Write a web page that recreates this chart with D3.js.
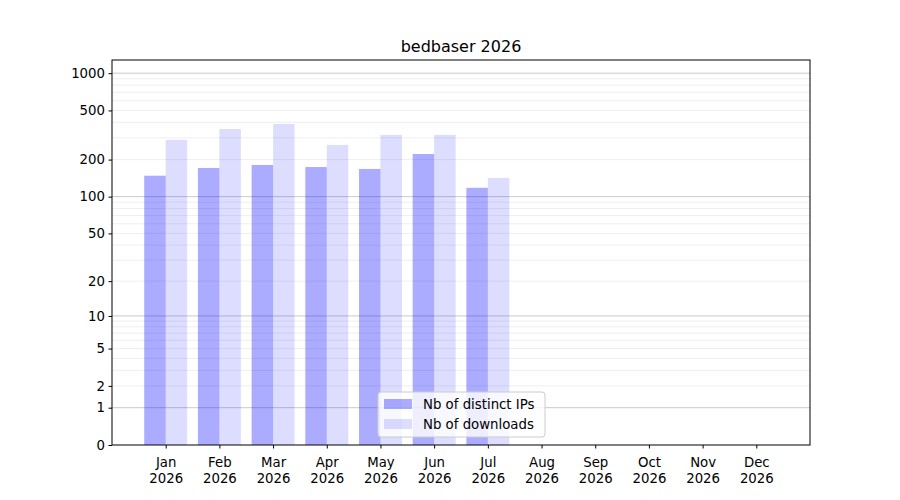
<!DOCTYPE html>
<html>
<head>
<meta charset="utf-8">
<script src="https://cdn.jsdelivr.net/npm/d3@7"></script>
<style>
body { margin: 0; background: #fff; }
svg { font-family: "DejaVu Sans", sans-serif; }
</style>
</head>
<body>
<svg width="900" height="500"></svg>
<script>
const months = ["Jan", "Feb", "Mar", "Apr", "May", "Jun", "Jul", "Aug", "Sep", "Oct", "Nov", "Dec"];
const year = "2026";
const distinctIPs = [148, 171, 181, 174, 168, 222, 118];
const downloads = [289, 354, 389, 263, 317, 317, 142];
const yTickValues = [0, 1, 2, 5, 10, 20, 50, 100, 200, 500, 1000];
const majorGrid = [1, 10, 100, 1000];
const minorGrid = [2, 3, 4, 5, 6, 7, 8, 9, 20, 30, 40, 50, 60, 70, 80, 90, 200, 300, 400, 500, 600, 700, 800, 900];

const svg = d3.select("svg");
const plotLeft = 112, plotRight = 810, plotTop = 60, plotBottom = 445;

// values are shown on a log(x + 1) axis
const x = d3.scaleLinear().domain([0, 13]).range([plotLeft, plotRight]);
const y = d3.scaleLog().domain([1, 1279]).range([plotBottom, plotTop]);
const yv = v => y(v + 1);
const step = x(1) - x(0);
const barW = step * 0.4;

// grid lines
svg.append("g").selectAll("line")
    .data(minorGrid)
    .join("line")
    .attr("x1", plotLeft).attr("x2", plotRight)
    .attr("y1", d => yv(d)).attr("y2", d => yv(d))
    .attr("stroke", "#ebebeb").attr("stroke-width", 0.8);

svg.append("g").selectAll("line")
    .data(majorGrid)
    .join("line")
    .attr("x1", plotLeft).attr("x2", plotRight)
    .attr("y1", d => yv(d)).attr("y2", d => yv(d))
    .attr("stroke", "#bdbdbd").attr("stroke-width", 0.8);

// bars
svg.append("g").selectAll("rect")
    .data(distinctIPs)
    .join("rect")
    .attr("x", (d, i) => x(i + 1) - barW)
    .attr("y", d => yv(d))
    .attr("width", barW)
    .attr("height", d => plotBottom - yv(d))
    .attr("fill", "blue").attr("fill-opacity", 0.33);

svg.append("g").selectAll("rect")
    .data(downloads)
    .join("rect")
    .attr("x", (d, i) => x(i + 1))
    .attr("y", d => yv(d))
    .attr("width", barW)
    .attr("height", d => plotBottom - yv(d))
    .attr("fill", "blue").attr("fill-opacity", 0.135);

// axes
const yAxis = d3.axisLeft(y)
    .tickValues(yTickValues.map(v => v + 1))
    .tickFormat(d => d3.format("d")(Math.round(d - 1)))
    .tickSize(3.5).tickPadding(3.5);
svg.append("g")
    .attr("transform", `translate(${plotLeft},0)`)
    .call(yAxis)
    .attr("font-family", "DejaVu Sans")
    .attr("font-size", 13.3)
    .call(g => g.select(".domain").remove())
    .call(g => g.selectAll("text").attr("fill", "#000"));

const xAxis = d3.axisBottom(x)
    .tickValues(d3.range(1, 13))
    .tickFormat(() => "")
    .tickSize(3.5);
const xg = svg.append("g")
    .attr("transform", `translate(0,${plotBottom})`)
    .call(xAxis)
    .attr("font-family", "DejaVu Sans")
    .attr("font-size", 13.3)
    .call(g => g.select(".domain").remove());
xg.selectAll(".tick").append("text")
    .attr("y", 22).attr("text-anchor", "middle")
    .attr("fill", "#000")
    .text((d, i) => months[i]);
xg.selectAll(".tick").append("text")
    .attr("y", 38).attr("text-anchor", "middle")
    .attr("fill", "#000")
    .text(year);

// frame
svg.append("rect")
    .attr("x", plotLeft).attr("y", plotTop)
    .attr("width", plotRight - plotLeft).attr("height", plotBottom - plotTop)
    .attr("fill", "none").attr("stroke", "#000").attr("stroke-width", 1);

// title
svg.append("text")
    .attr("x", (plotLeft + plotRight) / 2).attr("y", 52)
    .attr("text-anchor", "middle").attr("font-size", 16)
    .text("bedbaser 2026");

// legend
const legend = svg.append("g").attr("transform", "translate(378,392)");
legend.append("rect")
    .attr("width", 167).attr("height", 45).attr("rx", 3)
    .attr("fill", "#fff").attr("fill-opacity", 0.8)
    .attr("stroke", "#ccc");
const items = [["Nb of distinct IPs", 0.33], ["Nb of downloads", 0.135]];
items.forEach(([label, op], i) => {
    legend.append("rect")
        .attr("x", 6).attr("y", 7 + i * 20)
        .attr("width", 28).attr("height", 10)
        .attr("fill", "blue").attr("fill-opacity", op);
    legend.append("text")
        .attr("x", 45).attr("y", 17 + i * 20)
        .attr("font-size", 13.3)
        .text(label);
});
</script>
</body>
</html>
